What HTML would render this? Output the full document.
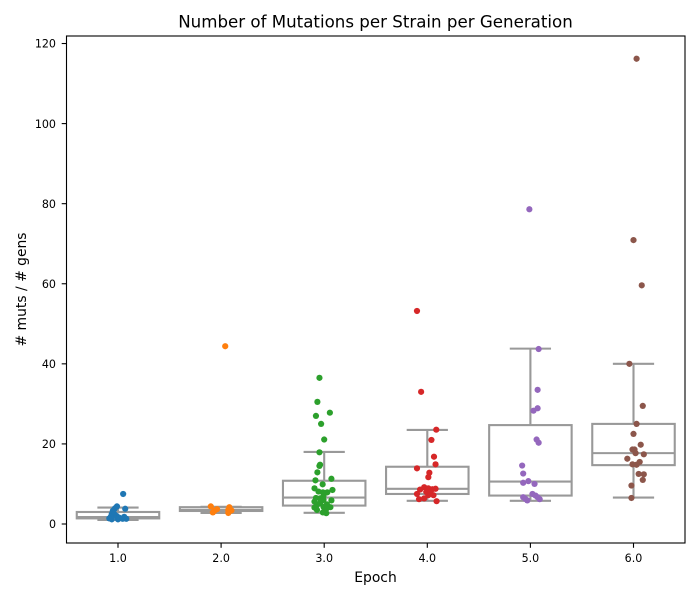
<!DOCTYPE html>
<html>
<head>
<meta charset="utf-8">
<title>Number of Mutations per Strain per Generation</title>
<style>
html,body{margin:0;padding:0;background:#fff;}
svg{display:block;}
text{font-family:"DejaVu Sans",sans-serif;fill:#000;}
</style>
</head>
<body>
<svg id="chart" width="700" height="600" viewBox="0 0 700 600" xmlns="http://www.w3.org/2000/svg">
<rect x="0" y="0" width="700" height="600" fill="#fff"/>
<text x="375.5" y="27.5" font-size="16.67" text-anchor="middle">Number of Mutations per Strain per Generation</text>
<text x="375.5" y="582" font-size="13.9" text-anchor="middle">Epoch</text>
<text transform="translate(26,289.5) rotate(-90)" font-size="13.9" text-anchor="middle"># muts / # gens</text>
<g id="plot"></g>
<rect x="66.5" y="36" width="618.5" height="507" fill="none" stroke="#000" stroke-width="1.1"/>
</svg>
<script>
const epochs = [1, 2, 3, 4, 5, 6];
const xTicks = ["1.0", "2.0", "3.0", "4.0", "5.0", "6.0"];
const yTicks = [0, 20, 40, 60, 80, 100, 120];
const colors = ["#1f77b4", "#ff7f0e", "#2ca02c", "#d62728", "#9467bd", "#8c564b"];

const q1 = [1.4, 3.25, 4.6, 7.5, 7.1, 14.7];
const medians = [1.75, 3.5, 6.6, 8.8, 10.6, 17.7];
const q3 = [3.0, 4.2, 10.8, 14.3, 24.7, 25.0];
const whiskerLow = [1.0, 2.75, 2.8, 5.8, 5.8, 6.6];
const whiskerHigh = [4.1, 4.3, 18.0, 23.5, 43.8, 40.0];

const epoch1X = [1.05, 0.99, 1.07, 0.97, 0.95, 0.94, 0.964, 0.93, 0.916, 0.94, 1.0, 0.987, 1.06, 1.08, 1.01, 1.045];
const epoch1Y = [7.5, 4.4, 3.8, 3.9, 3.3, 2.5, 2.5, 1.8, 1.4, 1.16, 1.16, 2.0, 1.8, 1.3, 1.6, 1.3];
const epoch2X = [2.04, 1.9, 1.935, 1.96, 1.92, 2.08, 2.07, 2.1, 2.07, 2.08];
const epoch2Y = [44.4, 4.4, 3.3, 3.7, 2.9, 4.2, 3.5, 3.4, 2.75, 3.1];
const epoch3X = [2.954, 2.934, 2.92, 3.055, 2.97, 3.0, 2.954, 2.96, 2.954, 2.934, 2.915, 3.07, 2.985, 2.906, 3.08, 2.945, 2.987, 3.03, 2.993, 2.96, 2.92, 2.906, 3.07, 2.993, 2.93, 3.026, 3.06, 2.906, 2.93, 2.993, 3.02, 2.987, 3.02, 2.96];
const epoch3Y = [36.5, 30.5, 27.0, 27.8, 25.0, 21.1, 17.9, 14.8, 14.5, 12.9, 10.9, 11.3, 9.9, 8.9, 8.5, 8.1, 7.9, 7.9, 7.0, 6.4, 6.5, 5.6, 5.9, 6.0, 4.75, 4.9, 4.2, 4.1, 3.5, 4.3, 3.75, 2.9, 2.7, 5.2];
const epoch4X = [3.9, 3.94, 4.087, 4.04, 4.065, 4.08, 3.9, 4.02, 4.01, 3.93, 3.97, 4.01, 4.05, 4.08, 3.9, 4.01, 4.06, 3.92, 3.97, 4.09, 3.99, 4.03];
const epoch4Y = [53.2, 33.0, 23.55, 21.0, 16.8, 14.9, 13.9, 12.8, 11.7, 8.6, 9.2, 8.9, 8.7, 8.8, 7.5, 7.2, 7.2, 6.2, 6.4, 5.7, 8.0, 7.8];
const epoch5X = [4.99, 5.08, 5.07, 5.07, 5.03, 5.06, 5.08, 4.92, 4.93, 4.93, 4.98, 5.04, 4.93, 4.97, 5.02, 5.05, 5.07, 5.09, 4.95];
const epoch5Y = [78.6, 43.7, 33.5, 28.9, 28.3, 21.1, 20.3, 14.6, 12.6, 10.3, 10.7, 10.0, 6.7, 5.9, 7.5, 7.1, 6.7, 6.2, 6.3];
const epoch6X = [6.03, 6.0, 6.08, 5.96, 6.09, 6.03, 6.0, 6.07, 5.99, 6.01, 6.02, 6.1, 5.94, 6.06, 6.03, 5.99, 6.05, 6.1, 6.09, 5.98, 5.98];
const epoch6Y = [116.2, 70.9, 59.6, 40.0, 29.5, 25.0, 22.5, 19.8, 18.6, 18.6, 17.7, 17.4, 16.3, 15.5, 14.8, 14.9, 12.5, 12.4, 11.0, 9.6, 6.5];
const seriesX = [epoch1X, epoch2X, epoch3X, epoch4X, epoch5X, epoch6X];
const seriesY = [epoch1Y, epoch2Y, epoch3Y, epoch4Y, epoch5Y, epoch6Y];

function xScale(v) { return 118 + (v - 1) * 103.1; }
function yScale(v) { return 524 - v * 4.004; }

const NS = "http://www.w3.org/2000/svg";
const plot = document.getElementById("plot");
const GRAY = "#999999";
const BOX_W = 0.8;
const CAP_W = 0.4;

function make(tag, attrs) {
  const el = document.createElementNS(NS, tag);
  for (const k in attrs) el.setAttribute(k, attrs[k]);
  plot.appendChild(el);
  return el;
}
function grayLine(x1, y1, x2, y2) {
  return make("line", { x1: x1, y1: y1, x2: x2, y2: y2, stroke: GRAY, "stroke-width": 2.1 });
}

yTicks.forEach(function (t) {
  const y = yScale(t);
  const tick = make("line", { x1: 61.7, x2: 66.5, y1: y, y2: y, stroke: "#000", "stroke-width": 1.1 });
  
  
  const label = make("text", { x: 56, y: y + 4.2, "font-size": 11.1, "text-anchor": "end" });
  
  
  label.textContent = String(t);
});

epochs.forEach(function (e, i) {
  const x = xScale(e);
  const tick = make("line", { x1: x, x2: x, y1: 543, y2: 547.8, stroke: "#000", "stroke-width": 1.1 });
  
  
  const label = make("text", { x: x, y: 561.8, "font-size": 11.1, "text-anchor": "middle" });
  
  
  label.textContent = xTicks[i];
});

epochs.forEach(function (e, i) {
  const left = xScale(e - BOX_W / 2);
  const right = xScale(e + BOX_W / 2);
  const capL = xScale(e - CAP_W / 2);
  const capR = xScale(e + CAP_W / 2);
  const cx = xScale(e);

  const whiskUp = grayLine(cx, yScale(q3[i]), cx, yScale(whiskerHigh[i]));
  
  
  const whiskDown = grayLine(cx, yScale(q1[i]), cx, yScale(whiskerLow[i]));
  
  
  const capUp = grayLine(capL, yScale(whiskerHigh[i]), capR, yScale(whiskerHigh[i]));
  
  
  const capDown = grayLine(capL, yScale(whiskerLow[i]), capR, yScale(whiskerLow[i]));
  
  

  const box = make("rect", {
    x: left, y: yScale(q3[i]), width: right - left, height: yScale(q1[i]) - yScale(q3[i]),
    fill: "#fff", stroke: GRAY, "stroke-width": 2.1
  });
  
  
  const med = grayLine(left, yScale(medians[i]), right, yScale(medians[i]));
  
  
});

epochs.forEach(function (e, i) {
  seriesX[i].forEach(function (xv, j) {
    const pt = make("circle", { cx: xScale(xv), cy: yScale(seriesY[i][j]), r: 3.1, fill: colors[i] });
    
    
  });
});
</script>
</body>
</html>
